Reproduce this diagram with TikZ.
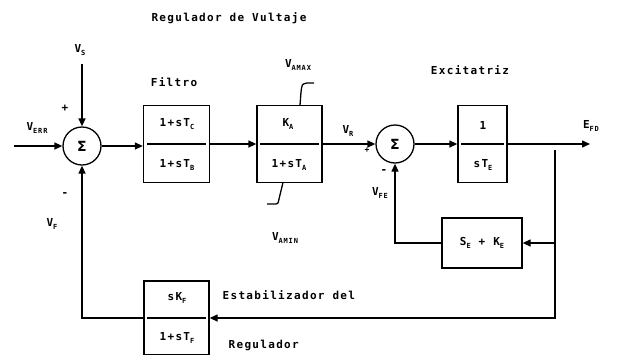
\documentclass[tikz,border=0pt]{standalone}
\usepackage{fontspec}
\newfontfamily\dm[LetterSpace=12]{DejaVu Sans Mono}
\newfontfamily\sg{DejaVu Sans}
\usetikzlibrary{arrows.meta}
\newcommand\sbs[1]{\raisebox{-3pt}{\fontsize{7}{8}\selectfont #1}}
\begin{document}
\begin{tikzpicture}[x=1pt,y=-1pt,
  font=\dm\bfseries\fontsize{11}{13}\selectfont,
  line width=1.3pt,
  >={Triangle[length=8pt,width=7pt]},
  blk/.style={draw,line width=1.3pt,inner sep=0,rectangle},
  sumc/.style={draw,circle,minimum size=38pt,inner sep=0,font=\sg\bfseries\fontsize{14}{14}\selectfont},
  lbl/.style={inner sep=0}]
\useasboundingbox (0,0) rectangle (619,354);
% summing junctions
\node[sumc] (s1) at (82,146) {Σ};
\node[sumc] (s2) at (395,144) {Σ};
% blocks
\node[blk,minimum width=66pt,minimum height=77pt] (filt) at (176.5,144) {};
\node[blk,minimum width=65pt,minimum height=77pt] (ka) at (289.5,144) {};
\node[blk,minimum width=49pt,minimum height=77pt] (exc) at (482.5,144) {};
\node[blk,minimum width=80pt,minimum height=50pt] (se) at (482,243) {S\sbs{E} + K\sbs{E}};
\node[blk,minimum width=65pt,minimum height=74pt] (stab) at (176.5,318) {};
% fraction lines
\draw ([xshift=4pt]filt.west) -- ([xshift=-4pt]filt.east);
\draw ([xshift=4pt]ka.west) -- ([xshift=-4pt]ka.east);
\draw ([xshift=4pt]exc.west) -- ([xshift=-4pt]exc.east);
\draw ([xshift=4pt]stab.west) -- ([xshift=-4pt]stab.east);
% block contents
\node[lbl] (fn) at (177,124) {1+sT\sbs{C}};
\node[lbl] (fd) at (177,165) {1+sT\sbs{B}};
\node[lbl] (kn) at (288,124) {K\sbs{A}};
\node[lbl] (kd) at (289,165) {1+sT\sbs{A}};
\node[lbl] (en) at (483,125) {1};
\node[lbl] (ed) at (483,165) {sT\sbs{E}};
\node[lbl] (sn) at (177,298) {sK\sbs{F}};
\node[lbl] (sd) at (177,338) {1+sT\sbs{F}};
% limiter
\draw (300,105.5) -- (301,92) .. controls (302,84) .. (307,83) -- (314,83);
\draw (283,182.5) -- (279,199) .. controls (278,204) .. (274,204) -- (267,204);
% coordinates
\coordinate (in) at (14,146);
\coordinate (vs) at (82,64);
\coordinate (out) at (590,144);
\coordinate (br) at (555,150);
% connectors
\draw[->] (in) -- (s1);
\draw[->] (vs) -- (s1);
\draw[->] (s1) -- (filt.west|-s1);
\draw[->] (filt) -- (ka);
\draw[->] (ka) -- (s2);
\draw[->] (s2) -- (exc);
\draw[->] (exc) -- (out);
\draw[->] (br) |- (stab.east);
\draw[->] (se.east -| br) -- (se.east);
\draw[->] (se.west) -| (s2.south);
\draw[->] (stab.west) -| (s1.south);
% labels
\node[lbl] (t1) at (229,18) {Regulador de Vultaje};
\node[lbl] (t2) at (174,82) {Filtro};
\node[lbl] (t3) at (470,70) {Excitatriz};
\node[lbl] (t4) at (80,50) {V\sbs{S}};
\node[lbl] (t5) at (65,108) {+};
\node[lbl] (t6) at (37,128) {V\sbs{ERR}};
\node[lbl] (t7) at (298,65) {V\sbs{AMAX}};
\node[lbl] (t8) at (285,238) {V\sbs{AMIN}};
\node[lbl] (t9) at (348,131) {V\sbs{R}};
\node[lbl] (t10) at (367,150) {\fontsize{8}{9}\selectfont +};
\node[lbl] (t11) at (591,126) {E\sbs{FD}};
\node[lbl] (t12) at (65,195) {-};
\node[lbl] (t13) at (52,224) {V\sbs{F}};
\node[lbl] (t14) at (384,172) {-};
\node[lbl] (t15) at (380,193) {V\sbs{FE}};
\node[lbl,anchor=west] (t16) at (222,295) {Estabilizador del};
\node[lbl,anchor=west] (t17) at (228,345) {Regulador};
\end{tikzpicture}
\end{document}
